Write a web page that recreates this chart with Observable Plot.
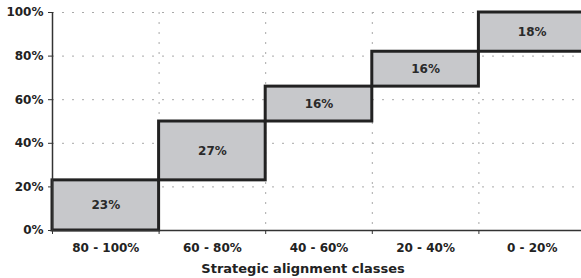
<!DOCTYPE html>
<html>
<head>
<meta charset="utf-8">
<script src="https://cdn.jsdelivr.net/npm/d3@7"></script>
<script src="https://cdn.jsdelivr.net/npm/@observablehq/plot@0.6"></script>
<style>
  html, body { margin: 0; padding: 0; background: #fff; overflow: hidden; }
</style>
</head>
<body>
<div id="chart"></div>
<script>
const categories = ["80 - 100%", "60 - 80%", "40 - 60%", "20 - 40%", "0 - 20%"];
const shares = [0.23, 0.27, 0.16, 0.16, 0.18];
const labels = ["23%", "27%", "16%", "16%", "18%"];
const yTicks = [0, 0.2, 0.4, 0.6, 0.8, 1.0];
const xTitle = "Strategic alignment classes";

const ends = Array.from(d3.cumsum(shares));
const data = categories.map((c, i) => ({
  i, category: c, label: labels[i],
  start: i === 0 ? 0 : ends[i - 1],
  end: ends[i]
}));
const idx = categories.map((_, i) => i);

const font = { fontFamily: "'DejaVu Sans', Verdana, sans-serif", fontWeight: "bold", fontSize: 12 };

const chart = Plot.plot({
  width: 581,
  height: 278,
  marginLeft: 52,
  marginRight: 0,
  marginTop: 12,
  marginBottom: 48,
  x: { domain: [0, categories.length], range: [52, 585] },
  y: { domain: [0, 1] },
  style: { fontFamily: "'DejaVu Sans', Verdana, sans-serif", fontWeight: "bold", fontSize: "12px", color: "#222", overflow: "visible" },
  marks: [
    Plot.ruleY(yTicks.slice(1), { stroke: "#a8a8a8", strokeWidth: 1, strokeDasharray: "2,8" }),
    Plot.ruleX(idx.slice(1), { stroke: "#a8a8a8", strokeWidth: 1, strokeDasharray: "2,8" }),
    Plot.rect(data, {
      x1: "i", x2: d => d.i + 1, y1: "start", y2: "end",
      fill: "#c7c8cb", stroke: "#222", strokeWidth: 3
    }),
    Plot.text(data, {
      x: d => d.i + 0.5, y: d => (d.start + d.end) / 2, text: "label",
      fill: "#2a2a2a", ...font
    }),
    Plot.ruleX([0], { stroke: "#333", strokeWidth: 1.5 }),
    Plot.ruleY([0], { stroke: "#333", strokeWidth: 1.5 }),
    Plot.axisY({
      ticks: yTicks, tickFormat: d3.format(".0%"), tickSize: 4, tickPadding: 5,
      stroke: "#333", label: null, ...font, fill: "#222"
    }),
    Plot.axisX({
      ticks: idx, tickFormat: () => "", tickSize: 4, stroke: "#333", label: null
    }),
    Plot.axisX({
      ticks: idx.map(i => i + 0.5), tickFormat: v => categories[Math.floor(v)],
      tickSize: 0, tickPadding: 13, label: null, ...font, fill: "#222"
    }),
    Plot.text([xTitle], {
      frameAnchor: "bottom", lineAnchor: "bottom", dy: 42, dx: -14,
      fontFamily: "'DejaVu Sans', Verdana, sans-serif", fontWeight: "bold", fontSize: 13, fill: "#222"
    })
  ]
});
document.getElementById("chart").appendChild(chart);
</script>
</body>
</html>
